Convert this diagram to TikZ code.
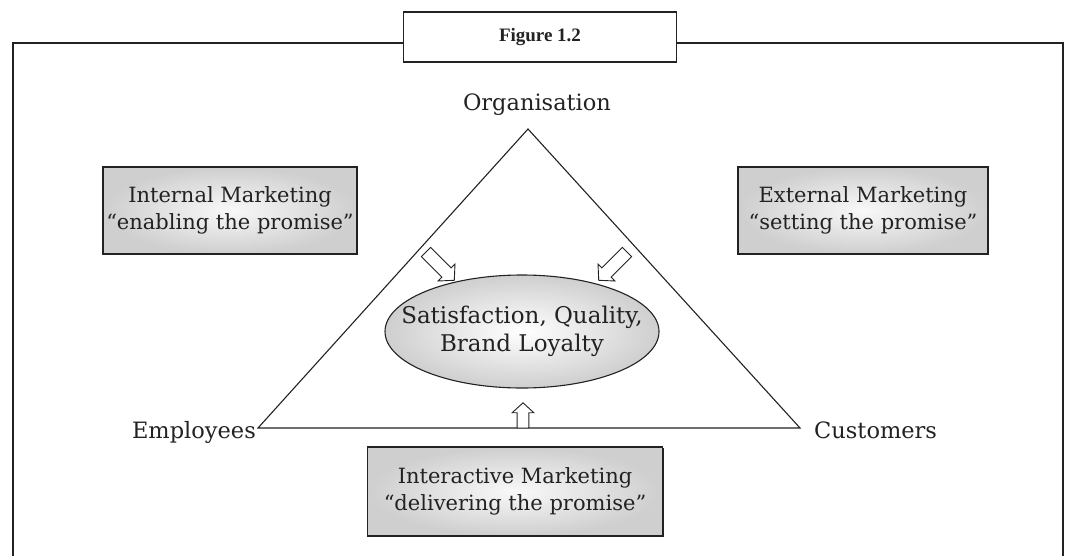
\documentclass[tikz,border=0pt]{standalone}
\usepackage{fontspec}
\setmainfont{DejaVu Serif}
\newfontfamily\figfont{Liberation Serif}
\usetikzlibrary{shapes.geometric}
\definecolor{ink}{HTML}{222222}
\tikzset{
  lbl/.style={text=ink, font=\fontsize{22.5}{27}\selectfont, inner sep=0pt},
  mbox/.style={draw=ink, line width=1.2pt, inner color=gray!5, outer color=gray!38, align=center, text=ink, font=\fontsize{21}{27}\selectfont,
    preaction={fill=ink, transform canvas={shift={(1.3pt,-1.3pt)}}}},
  figbox/.style={draw=ink, line width=1.4pt, fill=white, minimum width=273pt, minimum height=50pt, font=\figfont\bfseries\fontsize{19}{22}\selectfont, text=ink},
  harrow/.pic={\draw[draw=ink, fill=white, line width=0.9pt, line join=miter] (0,-6.5) -- ({#1-11},-6.5) -- ({#1-11},-12) -- (#1,0) -- ({#1-11},12) -- ({#1-11},6.5) -- (0,6.5) -- cycle;}
}
\begin{document}
\begin{tikzpicture}[x=1pt,y=-1pt]
\useasboundingbox (0,0) rectangle (1067,555);
% frame
\node[figbox] (fig) at (540,37) {Figure 1.2};
\coordinate (frBL) at (13,556);
\coordinate (frBR) at (1063,556);
\coordinate (figL) at (403,43);
\coordinate (figR) at (676,43);
\draw[ink, line width=1.5pt] (frBL) |- (figL);
\draw[ink, line width=1.5pt] (figR) -| (frBR);
% triangle
\coordinate (apex) at (528,129);
\coordinate (bl) at (258,428);
\coordinate (br) at (800,428);
\draw[ink, line width=1.1pt, line join=miter] (apex) -- (bl) -- (br) -- cycle;
% labels
\node[lbl, anchor=base] (org) at (537,110) {Organisation};
\node[lbl, anchor=base east] (emp) at (256,438) {Employees};
\node[lbl, anchor=base west] (cus) at (814,438) {Customers};
% boxes
\node[mbox, minimum width=254pt, minimum height=87pt] (int) at (230,210.5) {Internal Marketing\\``enabling the promise''};
\node[mbox, minimum width=250pt, minimum height=87pt] (ext) at (863,210.5) {External Marketing\\``setting the promise''};
\node[mbox, minimum width=295pt, minimum height=89pt] (inter) at (515,491.5) {Interactive Marketing\\``delivering the promise''};
% ellipse
\node[ellipse, draw=ink, line width=1.1pt, inner color=white, outer color=gray!38, minimum width=274pt, minimum height=113pt, inner sep=0pt] (sat) at (522,331.5) {};
\node[align=center, text=ink, font=\fontsize{23}{28}\selectfont, inner sep=0pt] (satT) at (sat.center) {Satisfaction, Quality,\\Brand Loyalty};
% hollow arrows
\coordinate (a1) at (426,252);
\coordinate (a2) at (627,252);
\coordinate (a3) at (523,428);
\pic[rotate=-45] at (a1) {harrow=40};
\pic[rotate=-135] at (a2) {harrow=40};
\pic[rotate=90, scale=0.9] at (a3) {harrow=28};
\end{tikzpicture}
\end{document}
